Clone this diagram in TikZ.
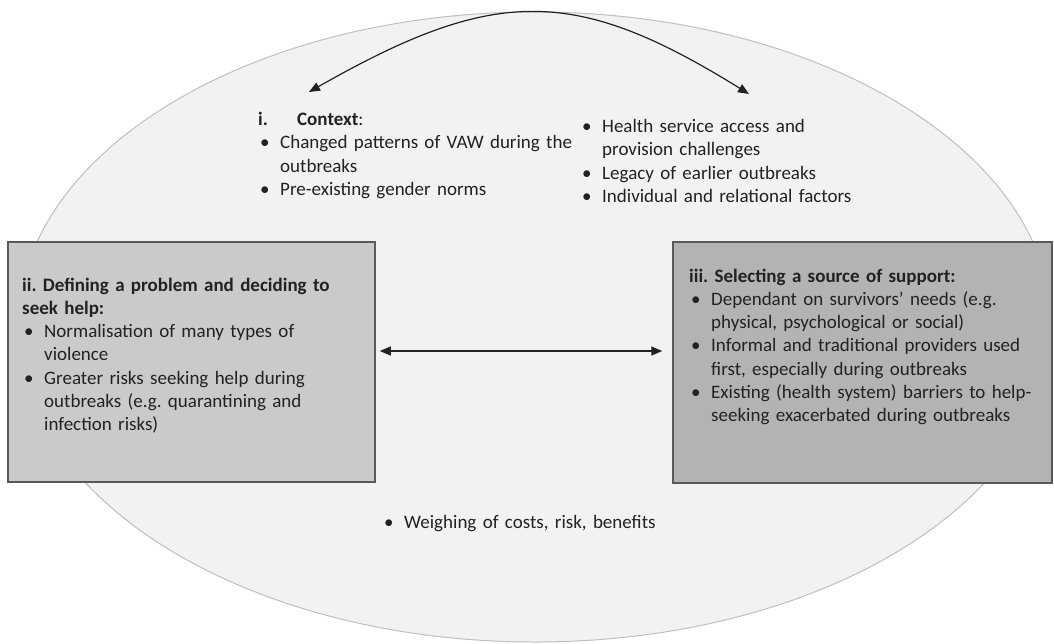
\documentclass[tikz,border=0pt]{standalone}
\usepackage{fontspec}
\setmainfont{Carlito}
\usetikzlibrary{arrows.meta}

\definecolor{ellfill}{HTML}{F2F2F2}
\definecolor{elldraw}{HTML}{BFBFBF}
\definecolor{boxlight}{HTML}{CACACA}
\definecolor{boxdark}{HTML}{B3B3B3}
\definecolor{boxline}{HTML}{595959}
\definecolor{ink}{HTML}{222222}

% bullet item with hanging indent; \newline continues the item on the next line
\newcommand{\bul}[1]{\par\noindent\hangindent=22pt\hangafter=1\strut\makebox[22pt][l]{\hspace{2pt}\textbullet}#1\par}

\begin{document}
\begin{tikzpicture}[x=1pt,y=-1pt,
  ell/.style={fill=ellfill,draw=elldraw,line width=1pt},
  panel/.style={draw=boxline,line width=1.5pt,inner sep=0,minimum width=367pt,minimum height=240pt},
  txt/.style={inner sep=0,anchor=north west,text width=#1,text=ink,
    font=\fontsize{19}{23.3}\selectfont\frenchspacing\raggedright},
  txt/.default=360pt,
  link/.style={draw=ink,line width=1.2pt,{Triangle[length=11pt,width=9pt]}-{Triangle[length=11pt,width=9pt]}}
]
\useasboundingbox (0,0) rectangle (1054,643);

% background ellipse
\draw[ell] (535,327) ellipse [x radius=517, y radius=315];

% the two side panels
\node[panel,fill=boxlight] (lbox) at (191.5,362) {};
\node[panel,fill=boxdark,minimum width=379pt,minimum height=241pt] (rbox) at (862.5,362.5) {};

% context, two columns
\node[txt=320pt] (ctxL) at (258,109) {\strut\makebox[39pt][l]{\bfseries i.}\textbf{Context}:
  \bul{Changed patterns of VAW during the\newline outbreaks}
  \bul{Pre-existing gender norms}};
\node[txt=320pt] (ctxR) at (580,109) {\bul{Health service access and\newline provision challenges}
  \bul{Legacy of earlier outbreaks}
  \bul{Individual and relational factors}};

% panel texts
\node[txt] (ltext) at (22,274.5) {\strut\textbf{ii. Defining a problem and deciding to}\newline\textbf{seek help:}
  \bul{Normalisation of many types of\newline violence}
  \bul{Greater risks seeking help during\newline outbreaks (e.g. quarantining and\newline infection risks)}};
\node[txt] (rtext) at (689,265.5) {\strut\textbf{iii. Selecting a source of support:}
  \bul{Dependant on survivors’ needs (e.g.\newline physical, psychological or social)}
  \bul{Informal and traditional providers used\newline first, especially during outbreaks}
  \bul{Existing (health system) barriers to help-\newline seeking exacerbated during outbreaks}};

% weighing note
\node[txt] (weigh) at (382,504.5) {\bul{Weighing of costs, risk, benefits}};

% connectors
\coordinate (arcL) at (309,92);
\coordinate (arcR) at (749,94);
\draw[link] (arcL) .. controls (495,-14) and (575,-14) .. (arcR);
\draw[link] ([xshift=4pt,yshift=11pt]lbox.east) -- ([xshift=-10pt,yshift=11.5pt]rbox.west);
\end{tikzpicture}
\end{document}
